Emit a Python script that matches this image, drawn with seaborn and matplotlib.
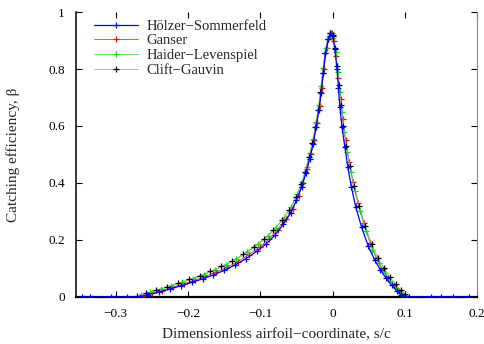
import numpy as np
import pandas as pd
import matplotlib
matplotlib.use("Agg")
import matplotlib.pyplot as plt
import seaborn as sns

# Catching efficiency curves for the four drag models
hs_x = [-0.347, -0.336, -0.306, -0.285, -0.267, -0.255, -0.24, -0.225, -0.21, -0.195,
        -0.18, -0.165, -0.15, -0.135, -0.12, -0.105, -0.092, -0.08, -0.068, -0.058,
        -0.05, -0.043, -0.037, -0.032, -0.027, -0.023, -0.019, -0.016, -0.013, -0.01,
        -0.006, -0.003, 0.0, 0.003, 0.006, 0.008, 0.010, 0.013, 0.017, 0.021,
        0.026, 0.032, 0.040, 0.049, 0.058, 0.066, 0.074, 0.082, 0.089, 0.095,
        0.099, 0.136, 0.15, 0.167, 0.189]
hs_y = [0, 0, 0, 0, 0, 0.008, 0.017, 0.028, 0.039, 0.051,
        0.063, 0.077, 0.093, 0.112, 0.134, 0.16, 0.186, 0.216, 0.255, 0.295,
        0.34, 0.385, 0.435, 0.485, 0.535, 0.595, 0.655, 0.715, 0.785, 0.855,
        0.905, 0.925, 0.915, 0.87, 0.80, 0.735, 0.665, 0.595, 0.525, 0.455,
        0.385, 0.315, 0.245, 0.18, 0.13, 0.095, 0.065, 0.04, 0.02, 0.006,
        0, 0, 0, 0, 0]

ganser_x = [-0.262, -0.25, -0.236, -0.221, -0.206, -0.191, -0.176, -0.161, -0.146, -0.131,
            -0.116, -0.101, -0.088, -0.076, -0.065, -0.055, -0.047, -0.041, -0.035, -0.030,
            -0.026, -0.022, -0.018, -0.015, -0.012, -0.008, -0.004, -0.001, 0.002, 0.005,
            0.008, 0.011, 0.014, 0.018, 0.023, 0.028, 0.035, 0.043, 0.052, 0.061,
            0.069, 0.077, 0.085, 0.092, 0.098, 0.101]
ganser_y = [0.004, 0.012, 0.022, 0.034, 0.046, 0.058, 0.072, 0.087, 0.104, 0.124,
            0.148, 0.175, 0.203, 0.236, 0.272, 0.31, 0.355, 0.40, 0.45, 0.50,
            0.55, 0.61, 0.67, 0.735, 0.80, 0.875, 0.915, 0.925, 0.90, 0.845,
            0.77, 0.695, 0.625, 0.55, 0.475, 0.405, 0.33, 0.26, 0.19, 0.135,
            0.097, 0.066, 0.04, 0.02, 0.006, 0.0]

hl_x = [-0.265, -0.252, -0.238, -0.223, -0.208, -0.193, -0.178, -0.163, -0.148, -0.133,
        -0.118, -0.103, -0.09, -0.078, -0.067, -0.057, -0.049, -0.042, -0.036, -0.031,
        -0.027, -0.023, -0.019, -0.016, -0.013, -0.009, -0.005, -0.002, 0.001, 0.004,
        0.007, 0.010, 0.013, 0.016, 0.020, 0.025, 0.031, 0.038, 0.046, 0.055,
        0.064, 0.072, 0.080, 0.088, 0.095, 0.1, 0.103]
hl_y = [0.006, 0.016, 0.027, 0.039, 0.051, 0.064, 0.078, 0.094, 0.112, 0.133,
        0.157, 0.184, 0.212, 0.243, 0.278, 0.316, 0.36, 0.405, 0.455, 0.505,
        0.555, 0.615, 0.675, 0.74, 0.805, 0.875, 0.915, 0.928, 0.91, 0.86,
        0.79, 0.72, 0.65, 0.58, 0.51, 0.44, 0.37, 0.3, 0.23, 0.165,
        0.118, 0.085, 0.056, 0.032, 0.014, 0.004, 0.0]

cg_x = [-0.27, -0.258, -0.244, -0.229, -0.214, -0.199, -0.184, -0.169, -0.154, -0.139,
        -0.124, -0.109, -0.095, -0.082, -0.07, -0.06, -0.051, -0.044, -0.038, -0.033,
        -0.028, -0.024, -0.02, -0.017, -0.014, -0.011, -0.007, -0.003, 0.0, 0.003,
        0.006, 0.009, 0.012, 0.015, 0.019, 0.024, 0.030, 0.037, 0.045, 0.054,
        0.063, 0.071, 0.079, 0.087, 0.094, 0.1, 0.105]
cg_y = [0.004, 0.013, 0.024, 0.036, 0.048, 0.061, 0.075, 0.09, 0.107, 0.127,
        0.15, 0.176, 0.204, 0.235, 0.27, 0.305, 0.35, 0.395, 0.44, 0.49,
        0.54, 0.595, 0.655, 0.72, 0.785, 0.855, 0.905, 0.928, 0.92, 0.875,
        0.81, 0.745, 0.675, 0.6, 0.53, 0.46, 0.39, 0.32, 0.25, 0.185,
        0.135, 0.1, 0.07, 0.045, 0.024, 0.01, 0.0]

x_ticks = [-0.3, -0.2, -0.1, 0, 0.1, 0.2]
x_tick_labels = ["\u22120.3", "\u22120.2", "\u22120.1", "0", "0.1", "0.2"]
y_ticks = [0, 0.2, 0.4, 0.6, 0.8, 1]
y_tick_labels = ["0", "0.2", "0.4", "0.6", "0.8", "1"]

sns.set_style("ticks")
plt.rcParams['font.family'] = ['Liberation Serif', 'DejaVu Serif']

fig = plt.figure(figsize=(4.84, 3.44), dpi=100)
ax = fig.add_axes([0.157, 0.137, 0.829, 0.828])

series = [
    ("H\u00f6lzer\u2212Sommerfeld", hs_x, hs_y, "#0000ff", "#0000ff", 0.9, 5),
    ("Ganser", ganser_x, ganser_y, "#ff3030", "#ff0000", 0.6, 3),
    ("Haider\u2212Levenspiel", hl_x, hl_y, "#40e040", "#00e000", 0.6, 3),
    ("Clift\u2212Gauvin", cg_x, cg_y, "#999999", "#000000", 0.5, 4),
]

for name, xs, ys, lc, mc, lw, z in series:
    sns.lineplot(x=xs, y=ys, ax=ax, color=lc, lw=lw, marker="+", markersize=4.5,
                 markeredgewidth=0.9, markeredgecolor=mc, estimator=None,
                 sort=False, label=name, zorder=z)

ax.set_xlim(-0.355, 0.2)
ax.set_ylim(0, 1)
ax.set_xticks(x_ticks)
ax.set_xticklabels(x_tick_labels)
ax.set_yticks(y_ticks)
ax.set_yticklabels(y_tick_labels)
ax.tick_params(direction="in", top=True, right=True, length=4, width=0.8,
               labelsize=9.5, pad=8, colors="black")
ax.spines["top"].set_visible(False)
ax.spines["right"].set_color("#888888")
ax.spines["left"].set_linewidth(1.1)
ax.spines["bottom"].set_linewidth(1.6)
ax.spines["left"].set_color("black")
ax.spines["bottom"].set_color("black")

ax.set_xlabel("Dimensionless airfoil\u2212coordinate, s/c", fontsize=11, labelpad=6)
ax.set_ylabel("Catching efficiency, \u03b2", fontsize=11, labelpad=20)

ax.legend(loc="upper left", bbox_to_anchor=(0.02, 1.01), frameon=False, fontsize=10.5,
          handlelength=3.0, handletextpad=0.6, labelspacing=0.1, borderaxespad=0.3)

fig.savefig("out.png", dpi=100)
